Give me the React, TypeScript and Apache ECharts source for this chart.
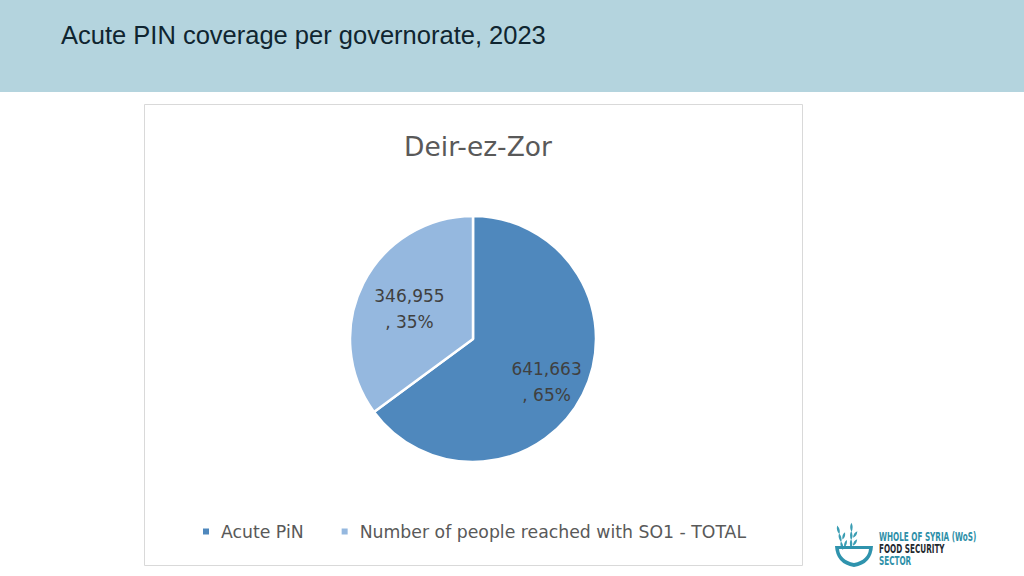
import React, { useEffect, useRef } from "react";
import * as echarts from "echarts";

const pageTitle = "Acute PIN coverage per governorate, 2023";
const chartTitle = "Deir-ez-Zor";
const categories = ["Acute PiN", "Number of people reached with SO1 - TOTAL"];
const values = [641663, 346955];
const percents = [65, 35];
const colors = ["#4f88bd", "#95b8df"];
const logoLines = ["WHOLE OF SYRIA (WoS)", "FOOD SECURITY", "SECTOR"];

const fmt = (v: number) => v.toLocaleString("en-US");
const FONT = "DejaVu Sans";

let registered = false;
function registerShapes() {
  if (registered) return;
  registered = true;
  echarts.graphic.registerShape(
    "bowl",
    echarts.graphic.extendPath(
      "M0 0 L38 0 Q37 18 19 21 Q1 18 0 0 Z M4 3 Q5 14 19 17 Q33 14 34 3 Z",
      {}
    )
  );
  echarts.graphic.registerShape(
    "wheat",
    echarts.graphic.extendPath(
      "M0 0 Q3 -4 1 -9 Q-2 -5 0 0 Z M1 -8 Q4 -12 2 -17 Q-1 -13 1 -8 Z M2 -16 Q5 -20 3 -25 Q0 -21 2 -16 Z M2 -2 Q6 -3 7 -8 Q3 -7 2 -2 Z M3 -10 Q7 -11 8 -16 Q4 -15 3 -10 Z",
      {}
    )
  );
}

const logoText = (i: number, y: number, fill: string) => ({
  type: "text",
  x: 879,
  y,
  scaleX: 0.62,
  style: {
    text: logoLines[i],
    fontFamily: "DejaVu Sans Condensed, DejaVu Sans, sans-serif",
    fontWeight: "bold",
    fontSize: 13,
    fill,
    verticalAlign: "middle",
  },
});

export default function App() {
  const ref = useRef<HTMLDivElement>(null);
  useEffect(() => {
    if (!ref.current) return;
    registerShapes();
    const chart = echarts.init(ref.current, undefined, { renderer: "svg" });
    chart.setOption({
      animation: false,
      backgroundColor: "#ffffff",
      title: {
        text: chartTitle,
        left: 473,
        top: 128,
        textAlign: "center",
        textStyle: {
          fontFamily: FONT,
          fontSize: 26.5,
          fontWeight: "normal",
          color: "#595959",
        },
      },
      legend: {
        data: categories,
        left: 196,
        top: 518,
        itemWidth: 8,
        itemHeight: 8,
        itemGap: 36,
        icon: "rect",
        textStyle: {
          fontFamily: FONT,
          fontSize: 17.3,
          color: "#595959",
          padding: [0, 0, 0, 6],
        },
      },
      graphic: [
        {
          type: "rect",
          shape: { x: 0, y: 0, width: 1024, height: 92 },
          style: { fill: "#b4d4de" },
          silent: true,
        },
        {
          type: "text",
          x: 61,
          y: 35,
          style: {
            text: pageTitle,
            fontFamily: "Liberation Sans, Arial, sans-serif",
            fontSize: 25.5,
            fill: "#0f2530",
            verticalAlign: "middle",
          },
        },
        {
          type: "rect",
          shape: { x: 144.5, y: 104.5, width: 658, height: 461 },
          style: { fill: "none", stroke: "#d9d9d9", lineWidth: 1 },
          silent: true,
        },
        {
          type: "wheat",
          x: 843,
          y: 550,
          rotation: 0.35,
          style: { fill: "#3a9db3" },
        },
        {
          type: "wheat",
          x: 851,
          y: 548,
          rotation: 0.1,
          style: { fill: "#3a9db3" },
        },
        {
          type: "bowl",
          x: 835,
          y: 546,
          style: { fill: "#2f93ad" },
        },
        logoText(0, 537, "#2e8fa8"),
        logoText(1, 549, "#1f2a30"),
        logoText(2, 561, "#2e8fa8"),
      ],
      series: [
        {
          type: "pie",
          center: [473, 339],
          radius: 123,
          startAngle: 90,
          clockwise: true,
          color: colors,
          itemStyle: { borderColor: "#ffffff", borderWidth: 2.5 },
          label: {
            show: true,
            position: "inside",
            fontFamily: FONT,
            fontSize: 17,
            lineHeight: 26,
            color: "#404040",
            align: "center",
            formatter: (p: any) => `${fmt(p.value)}\n, ${percents[p.dataIndex]}%`,
          },
          labelLayout: (p: any) =>
            p.dataIndex === 0 ? { dx: 16, dy: 14 } : { dx: -6, dy: -1 },
          labelLine: { show: false },
          emphasis: { disabled: true },
          data: categories.map((name, i) => ({ name, value: values[i] })),
        },
      ],
    });
    return () => chart.dispose();
  }, []);
  return (
    <div
      ref={ref}
      style={{ position: "fixed", left: 0, top: 0, width: 1024, height: 576 }}
    />
  );
}
